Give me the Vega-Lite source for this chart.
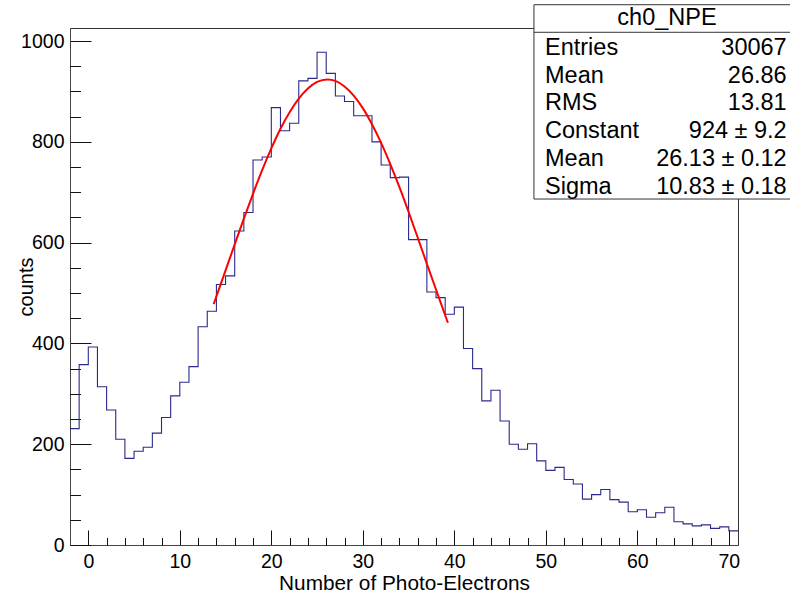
{
  "$schema": "https://vega.github.io/schema/vega-lite/v6.json",
  "width": 668,
  "height": 517,
  "autosize": {"type": "none"},
  "padding": {"left": 70, "top": 28, "right": 52, "bottom": 49},
  "background": "white",
  "config": {"font": "Liberation Sans", "view": {"stroke": "#333", "strokeWidth": 1}},
  "datasets": {
    "hist": [
      {"x": -2, "count": 231}, {"x": -1, "count": 358}, {"x": 0, "count": 393}, {"x": 1, "count": 314},
      {"x": 2, "count": 268}, {"x": 3, "count": 210}, {"x": 4, "count": 172}, {"x": 5, "count": 186},
      {"x": 6, "count": 194}, {"x": 7, "count": 222}, {"x": 8, "count": 253}, {"x": 9, "count": 296},
      {"x": 10, "count": 323}, {"x": 11, "count": 354}, {"x": 12, "count": 433}, {"x": 13, "count": 464},
      {"x": 14, "count": 517}, {"x": 15, "count": 534}, {"x": 16, "count": 623}, {"x": 17, "count": 660},
      {"x": 18, "count": 764}, {"x": 19, "count": 770}, {"x": 20, "count": 868}, {"x": 21, "count": 822},
      {"x": 22, "count": 837}, {"x": 23, "count": 921}, {"x": 24, "count": 926}, {"x": 25, "count": 978},
      {"x": 26, "count": 936}, {"x": 27, "count": 891}, {"x": 28, "count": 880}, {"x": 29, "count": 852},
      {"x": 30, "count": 852}, {"x": 31, "count": 800}, {"x": 32, "count": 754}, {"x": 33, "count": 729},
      {"x": 34, "count": 730}, {"x": 35, "count": 606}, {"x": 36, "count": 606}, {"x": 37, "count": 502},
      {"x": 38, "count": 491}, {"x": 39, "count": 458}, {"x": 40, "count": 472}, {"x": 41, "count": 390},
      {"x": 42, "count": 350}, {"x": 43, "count": 286}, {"x": 44, "count": 307}, {"x": 45, "count": 246},
      {"x": 46, "count": 200}, {"x": 47, "count": 190}, {"x": 48, "count": 201}, {"x": 49, "count": 167},
      {"x": 50, "count": 148}, {"x": 51, "count": 154}, {"x": 52, "count": 130}, {"x": 53, "count": 121},
      {"x": 54, "count": 91}, {"x": 55, "count": 100}, {"x": 56, "count": 110}, {"x": 57, "count": 90},
      {"x": 58, "count": 85}, {"x": 59, "count": 66}, {"x": 60, "count": 70}, {"x": 61, "count": 55},
      {"x": 62, "count": 64}, {"x": 63, "count": 75}, {"x": 64, "count": 46}, {"x": 65, "count": 42},
      {"x": 66, "count": 38}, {"x": 67, "count": 40}, {"x": 68, "count": 33}, {"x": 69, "count": 36},
      {"x": 70, "count": 28}, {"x": 71, "count": 28}
    ],
    "fit": [
      {"x": 13.7, "y": 478}, {"x": 14, "y": 493.5}, {"x": 15, "y": 545}, {"x": 16, "y": 596.5},
      {"x": 17, "y": 647.6}, {"x": 18, "y": 697}, {"x": 19, "y": 744}, {"x": 20, "y": 787},
      {"x": 21, "y": 826}, {"x": 22, "y": 859}, {"x": 23, "y": 886}, {"x": 24, "y": 906},
      {"x": 25, "y": 919}, {"x": 26.13, "y": 924}, {"x": 27, "y": 921}, {"x": 28, "y": 910},
      {"x": 29, "y": 892}, {"x": 30, "y": 867}, {"x": 31, "y": 835}, {"x": 32, "y": 798},
      {"x": 33, "y": 756}, {"x": 34, "y": 710}, {"x": 35, "y": 661}, {"x": 36, "y": 610},
      {"x": 37, "y": 558}, {"x": 38, "y": 507}, {"x": 39, "y": 456}, {"x": 39.3, "y": 441}
    ],
    "stats": [
      {"param": "Entries", "label": "Entries", "value": "30067"},
      {"param": "Mean", "label": "Mean", "value": "26.86"},
      {"param": "RMS", "label": "RMS", "value": "13.81"},
      {"param": "Constant", "label": "Constant", "value": "924 ± 9.2"},
      {"param": "Fit Mean", "label": "Mean", "value": "26.13 ± 0.12"},
      {"param": "Sigma", "label": "Sigma", "value": "10.83 ± 0.18"}
    ],
    "title": [{"name": "ch0_NPE"}]
  },
  "layer": [
    {
      "data": {"name": "hist"},
      "mark": {"type": "line", "interpolate": "step-after", "color": "#2a2a8c", "strokeWidth": 1.1},
      "encoding": {
        "x": {"field": "x", "type": "quantitative",
          "scale": {"domain": [-2, 71], "nice": false, "zero": false},
          "axis": {"orient": "bottom", "values": [0, 10, 20, 30, 40, 50, 60, 70], "format": "d", "tickSize": -15, "tickColor": "#111",
            "domainColor": "#444", "labelPadding": 22, "labelFontSize": 19.5, "labelColor": "#000",
            "labelFlush": false, "labelOverlap": false, "grid": false,
            "title": "Number of Photo-Electrons", "titleFontSize": 20.8, "titleFontWeight": "normal", "titleColor": "#000",
            "titleY": 44, "titleBaseline": "alphabetic"}},
        "y": {"field": "count", "type": "quantitative",
          "scale": {"domain": [0, 1026], "nice": false, "zero": true},
          "axis": {"orient": "left", "values": [0, 200, 400, 600, 800, 1000], "format": "d", "tickSize": -21, "tickColor": "#111",
            "domainColor": "#444", "labelPadding": 27, "labelFontSize": 19.5, "labelColor": "#000",
            "labelFlush": false, "labelOverlap": false, "grid": false,
            "title": "counts", "titleFontSize": 20, "titleFontWeight": "normal", "titleColor": "#000",
            "titleX": -38, "titleY": 258.5, "titleBaseline": "alphabetic"}}
      }
    },
    {
      "data": {"name": "fit"},
      "mark": {"type": "line", "interpolate": "monotone", "color": "#ff0000", "strokeWidth": 2},
      "encoding": {
        "x": {"field": "x", "type": "quantitative",
          "scale": {"domain": [-2, 71], "nice": false, "zero": false},
          "axis": {"orient": "bottom", "values": [2, 4, 6, 8, 12, 14, 16, 18, 22, 24, 26, 28, 32, 34, 36, 38, 42, 44, 46, 48, 52, 54, 56, 58, 62, 64, 66, 68],
            "tickSize": -7.5, "tickColor": "#111", "labels": false, "domain": false, "grid": false, "title": null}},
        "y": {"field": "y", "type": "quantitative",
          "scale": {"domain": [0, 1026], "nice": false, "zero": true},
          "axis": {"orient": "left", "values": [50, 100, 150, 250, 300, 350, 450, 500, 550, 650, 700, 750, 850, 900, 950],
            "tickSize": -10.5, "tickColor": "#111", "labels": false, "domain": false, "grid": false, "title": null}}
      }
    },
    {
      "data": {"name": "title"},
      "mark": {"type": "rect", "fill": "white", "stroke": "#333", "strokeWidth": 1},
      "encoding": {
        "x": {"datum": 48.7, "type": "quantitative", "scale": {"domain": [-2, 71], "nice": false, "zero": false}, "axis": null},
        "x2": {"datum": 77.8},
        "y": {"datum": 1072.2, "type": "quantitative", "scale": {"domain": [0, 1026], "nice": false}, "axis": null},
        "y2": {"datum": 686.6}
      }
    },
    {
      "data": {"name": "title"},
      "mark": {"type": "rule", "stroke": "#333", "strokeWidth": 1},
      "encoding": {
        "x": {"datum": 48.7, "type": "quantitative", "scale": {"domain": [-2, 71], "nice": false, "zero": false}, "axis": null},
        "x2": {"datum": 77.8},
        "y": {"datum": 1017.5, "type": "quantitative", "scale": {"domain": [0, 1026], "nice": false}, "axis": null}
      }
    },
    {
      "data": {"name": "title"},
      "mark": {"type": "text", "fontSize": 23.5, "align": "center", "baseline": "middle", "color": "#000"},
      "encoding": {
        "x": {"datum": 63.24, "type": "quantitative", "scale": {"domain": [-2, 71], "nice": false, "zero": false}, "axis": null},
        "y": {"datum": 1045.2, "type": "quantitative", "scale": {"domain": [0, 1026], "nice": false}, "axis": null},
        "text": {"field": "name", "type": "nominal"}
      }
    },
    {
      "data": {"name": "stats"},
      "mark": {"type": "text", "fontSize": 23.5, "align": "left", "baseline": "middle", "color": "#000"},
      "encoding": {
        "x": {"datum": 49.91, "type": "quantitative", "scale": {"domain": [-2, 71], "nice": false, "zero": false}, "axis": null},
        "y": {"field": "param", "type": "ordinal",
          "scale": {"type": "point", "domain": ["Entries", "Mean", "RMS", "Constant", "Fit Mean", "Sigma"], "range": [20, 158.7], "padding": 0},
          "axis": null},
        "text": {"field": "label", "type": "nominal"}
      }
    },
    {
      "data": {"name": "stats"},
      "mark": {"type": "text", "fontSize": 23.5, "align": "right", "baseline": "middle", "color": "#000"},
      "encoding": {
        "x": {"datum": 76.32, "type": "quantitative", "scale": {"domain": [-2, 71], "nice": false, "zero": false}, "axis": null},
        "y": {"field": "param", "type": "ordinal",
          "scale": {"type": "point", "domain": ["Entries", "Mean", "RMS", "Constant", "Fit Mean", "Sigma"], "range": [20, 158.7], "padding": 0},
          "axis": null},
        "text": {"field": "value", "type": "nominal"}
      }
    }
  ],
  "resolve": {
    "scale": {"x": "independent", "y": "independent"},
    "axis": {"x": "independent", "y": "independent"}
  }
}
